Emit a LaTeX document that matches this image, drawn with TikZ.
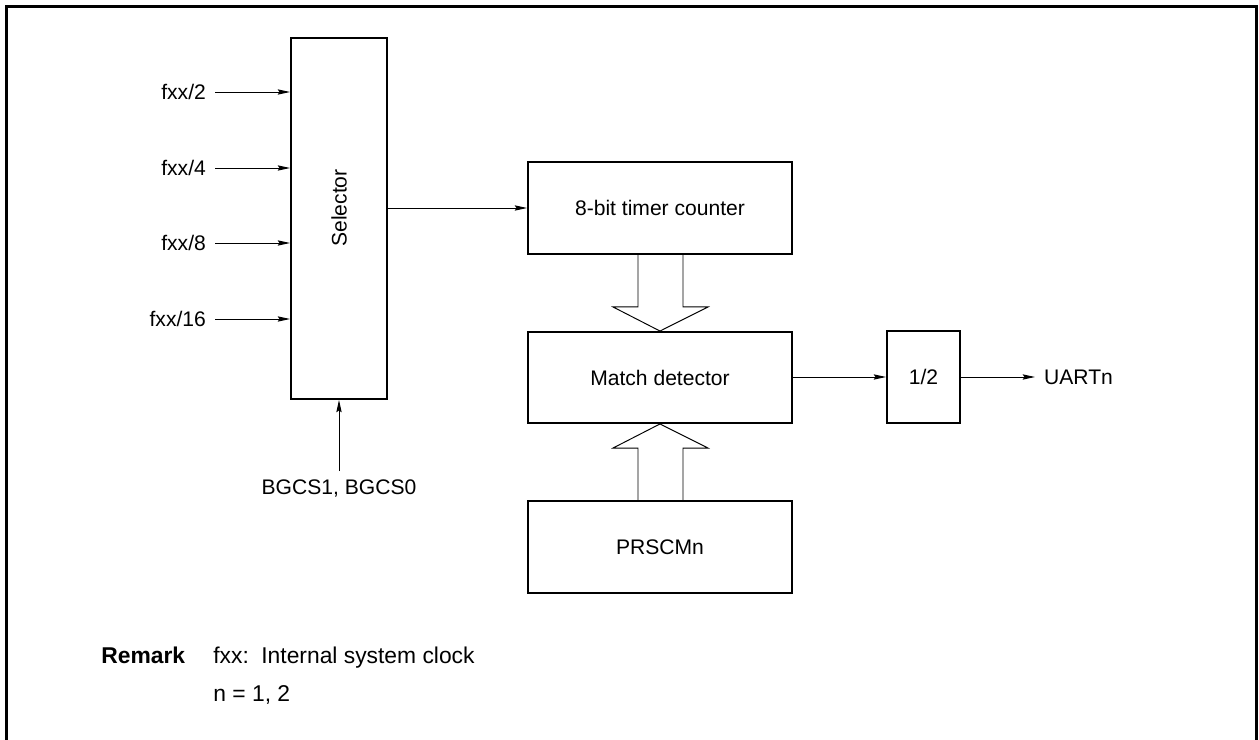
\documentclass[tikz,border=0pt]{standalone}
\usepackage{fontspec}
\setmainfont{Liberation Sans}
\usetikzlibrary{arrows.meta,calc,positioning}

\begin{document}
\begin{tikzpicture}[x=0.02cm, y=-0.02cm,
    every node/.style={font=\fontsize{12}{14}\selectfont},
    blockbox/.style={draw, line width=1.1pt, inner sep=0pt},
    sig/.style={line width=0.55pt, -{Stealth[length=7pt, width=3pt, inset=1pt]}},
    pinlabel/.style={inner xsep=5pt, inner ysep=0pt},
    wide/.style={line width=0.55pt, line join=miter},
    remark/.style={anchor=base west, inner sep=0pt, font=\fontsize{13}{15}\selectfont}]
  \useasboundingbox (0,0) rectangle (1259,740);
  % --- Outer frame (open at the bottom) ---
  \draw[line width=1.4pt] (6.5,740) -- (6.5,6.5) -- (1256.5,6.5) -- (1256.5,740);

  % --- Blocks ---
  \node[blockbox, minimum width=1.92cm, minimum height=7.22cm] (sel) at (339,218.5) {};
  \node[rotate=90] (seltxt) at (339,208) {Selector};
  \node[blockbox, minimum width=5.28cm, minimum height=1.84cm] (cnt) at (660,208) {8-bit timer counter};
  \node[blockbox, minimum width=5.28cm, minimum height=1.82cm] (match) at (660,377.5) {Match detector};
  \node[blockbox, minimum width=5.28cm, minimum height=1.84cm] (prscm) at (660,547) {PRSCMn};
  \node[blockbox, minimum width=1.46cm, minimum height=1.84cm] (half) at (923.5,377) {1/2};

  % --- Clock inputs ---
  \node[pinlabel, anchor=east] (in2) at (215,92) {fxx/2};
  \node[pinlabel, anchor=east] (in4) at (215,168) {fxx/4};
  \node[pinlabel, anchor=east] (in8) at (215,243) {fxx/8};
  \node[pinlabel, anchor=east] (in16) at (215,319) {fxx/16};
  \foreach \n in {in2,in4,in8,in16}
    \draw[sig] (\n.east) -- (\n -| sel.west);

  % --- Select bits ---
  \node[anchor=north, inner xsep=0pt, inner ysep=5pt] (bgcs) at (339,471) {BGCS1, BGCS0};
  \draw[sig] (bgcs.north) -- (sel.south);

  % --- Selector to counter ---
  \draw[sig] (cnt.west -| sel.east) -- (cnt.west);

  % --- Wide bus arrows ---
  \draw[wide] ($(cnt.south)+(-22,0)$) -- ++(0,52) -- ++(-25,0) -- (match.north)
    -- ($(cnt.south)+(48,52)$) -- ++(-25,0) -- ++(0,-52);
  \draw[wide] ($(prscm.north)+(-22,0)$) -- ++(0,-52) -- ++(-25,0) -- (match.south)
    -- ($(prscm.north)+(48,-52)$) -- ++(-25,0) -- ++(0,52);

  % --- Output path ---
  \draw[sig] (match.east |- half.west) -- (half.west);
  \node[pinlabel, anchor=west] (uart) at (1035,377) {UARTn};
  \draw[sig] (half.east) -- (uart.west);

  % --- Remark ---
  \node[remark, font=\fontsize{13}{15}\selectfont\bfseries] (rmk) at (101,663) {Remark};
  \node[remark] (rmkfxx) at (213,663) {fxx:};
  \node[remark] (rmkclk) at (261,663) {Internal system clock};
  \node[remark] (rmkn) at (213,701) {n = 1, 2};
\end{tikzpicture}
\end{document}
